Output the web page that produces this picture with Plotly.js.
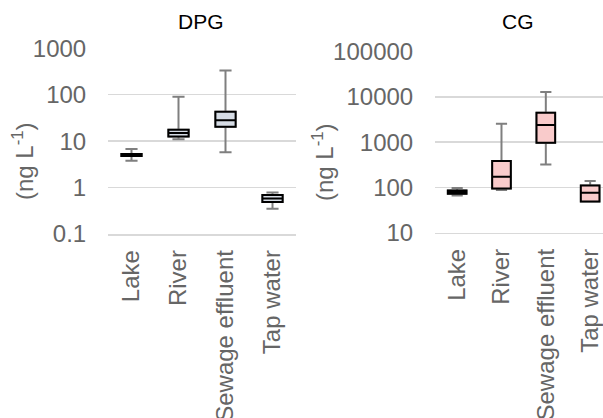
<!DOCTYPE html>
<html>
<head>
<meta charset="utf-8">
<script src="https://cdn.plot.ly/plotly-3.0.1.min.js"></script>
<style>html,body{margin:0;padding:0;background:#fff;}#chart{width:603px;height:418px;}</style>
</head>
<body>
<div id="chart"></div>
<script>
var categories = ['Lake', 'River', 'Sewage effluent', 'Tap water'];

var dpgLower  = [3.8, 11, 5.8, 0.35];
var dpgQ1     = [4.8, 12.6, 20.3, 0.49];
var dpgMedian = [5.0, 14.9, 28.3, 0.58];
var dpgQ3     = [5.3, 17.5, 42.8, 0.69];
var dpgUpper  = [6.8, 90, 333, 0.78];

var cgLower  = [66.5, 87.5, 323, 49];
var cgQ1     = [72.6, 95, 975, 49];
var cgMedian = [79, 172, 2400, 76];
var cgQ3     = [86, 384, 4490, 111];
var cgUpper  = [97, 2567, 12900, 139];

var dpgTicks = [0.1, 1, 10, 100, 1000];
var dpgTickText = ['0.1', '1', '10', '100', '1000'];
var cgTicks = [10, 100, 1000, 10000, 100000];
var cgTickText = ['10', '100', '1000', '10000', '100000'];

var FONT = 'Liberation Sans, Arial, sans-serif';
var GREY = '#666666';
var GRID = '#d9d9d9';

function whiskerTrace(lo, q1, med, q3, hi, xa, ya, w) {
  return {
    type: 'box', x: categories, q1: q1, median: med, q3: q3,
    lowerfence: lo, upperfence: hi,
    xaxis: xa, yaxis: ya, width: w, whiskerwidth: 0.6,
    line: {color: '#7f7f7f', width: 2},
    fillcolor: 'rgba(0,0,0,0)', boxpoints: false, showlegend: false, hoverinfo: 'skip'
  };
}
function boxTrace(q1, med, q3, xa, ya, w, fill) {
  return {
    type: 'box', x: categories, q1: q1, median: med, q3: q3,
    lowerfence: q1, upperfence: q3,
    xaxis: xa, yaxis: ya, width: w, whiskerwidth: 0,
    line: {color: '#000000', width: 2},
    fillcolor: fill, boxpoints: false, showlegend: false, hoverinfo: 'skip'
  };
}

var data = [
  whiskerTrace(dpgLower, dpgQ1, dpgMedian, dpgQ3, dpgUpper, 'x', 'y', 0.43),
  boxTrace(dpgQ1, dpgMedian, dpgQ3, 'x', 'y', 0.43, '#d6dce5'),
  whiskerTrace(cgLower, cgQ1, cgMedian, cgQ3, cgUpper, 'x2', 'y2', 0.42),
  boxTrace(cgQ1, cgMedian, cgQ3, 'x2', 'y2', 0.42, '#f9cbcb')
];

function xAxis(domain, range, anchor) {
  return {
    domain: domain, anchor: anchor, type: 'category', range: range,
    tickangle: -90, ticks: 'outside', ticklen: 5, tickcolor: 'rgba(0,0,0,0)',
    showgrid: false, zeroline: false, showline: true, linecolor: GRID, linewidth: 1.5,
    tickfont: {family: FONT, size: 24, color: GREY}, fixedrange: true
  };
}
function yAxis(domain, range, tv, tt, anchor) {
  return {
    domain: domain, anchor: anchor, type: 'log', range: range,
    tickvals: tv, ticktext: tt, ticks: 'outside', ticklen: 16, tickcolor: 'rgba(0,0,0,0)',
    showgrid: true, gridcolor: GRID, gridwidth: 1.5, zeroline: false, showline: false,
    tickfont: {family: FONT, size: 24, color: GREY}, fixedrange: true
  };
}

var layout = {
  width: 603, height: 418,
  margin: {l: 0, r: 0, t: 0, b: 0},
  paper_bgcolor: '#ffffff', plot_bgcolor: '#ffffff',
  boxmode: 'overlay',
  showlegend: false,
  xaxis: xAxis([108/603, 296/603], [-0.5, 3.5], 'y'),
  yaxis: yAxis([1 - 234/418, 1 - 48.3/418], [-1, 3], dpgTicks, dpgTickText, 'x'),
  xaxis2: xAxis([435/603, 1], [-0.5, 3.29], 'y2'),
  yaxis2: yAxis([1 - 232.7/418, 1 - 51.7/418], [1, 5], cgTicks, cgTickText, 'x2'),
  annotations: [
    {text: 'DPG', xref: 'paper', yref: 'paper', x: 200.5/603, y: 1 - 21.7/418,
     xanchor: 'center', yanchor: 'middle', showarrow: false,
     font: {family: FONT, size: 21, color: '#000000'}},
    {text: 'CG', xref: 'paper', yref: 'paper', x: 517.5/603, y: 1 - 21.7/418,
     xanchor: 'center', yanchor: 'middle', showarrow: false,
     font: {family: FONT, size: 21, color: '#000000'}},
    {text: '(ng L<sup>-1</sup>)', xref: 'paper', yref: 'paper', x: 23/603, y: 1 - 161/418,
     xanchor: 'center', yanchor: 'middle', textangle: -90, showarrow: false,
     font: {family: FONT, size: 24, color: GREY}},
    {text: '(ng L<sup>-1</sup>)', xref: 'paper', yref: 'paper', x: 323/603, y: 1 - 162/418,
     xanchor: 'center', yanchor: 'middle', textangle: -90, showarrow: false,
     font: {family: FONT, size: 24, color: GREY}}
  ]
};

Plotly.newPlot('chart', data, layout, {staticPlot: true, displayModeBar: false});
</script>
</body>
</html>
